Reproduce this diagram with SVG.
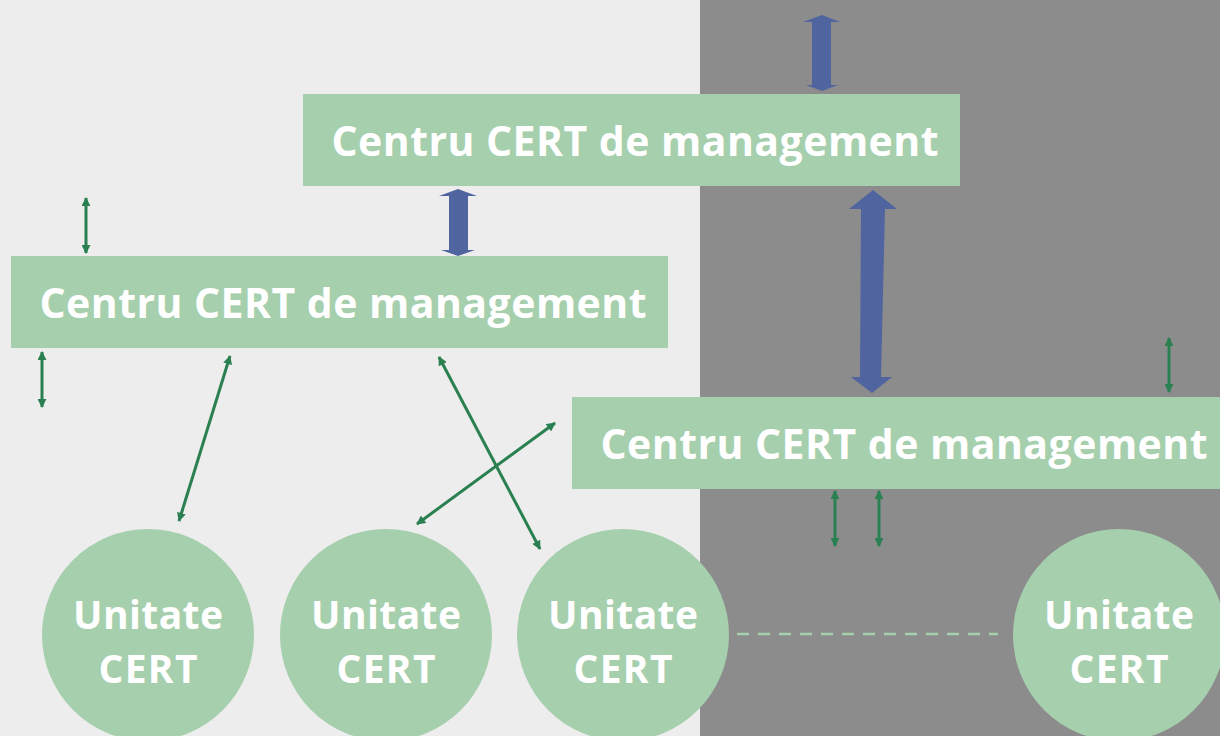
<svg xmlns="http://www.w3.org/2000/svg" width="1220" height="736" viewBox="0 0 1220 736">
<defs>
<style>
.box{fill:#A6CFAD;}
.lbl{font-family:"Open Sans","Liberation Sans",sans-serif;font-weight:bold;fill:#FFFFFF;text-anchor:middle;}
.bl{font-size:41px;}
.cl{font-size:39px;}
.g{stroke:#2A8050;stroke-width:3;fill:none;marker-start:url(#gs);marker-end:url(#ge);}
.blue{fill:#5064A0;}
</style>
<marker id="ge" viewBox="0 0 10 10" refX="9" refY="5" markerWidth="3.2" markerHeight="3" orient="auto" markerUnits="strokeWidth">
<path d="M0,0 L10,5 L0,10 z" fill="#2A8050"/>
</marker>
<marker id="gs" viewBox="0 0 10 10" refX="1" refY="5" markerWidth="3.2" markerHeight="3" orient="auto" markerUnits="strokeWidth">
<path d="M10,0 L0,5 L10,10 z" fill="#2A8050"/>
</marker>
</defs>
<rect x="0" y="0" width="700" height="736" fill="#EDEDED"/>
<rect x="700" y="0" width="520" height="736" fill="#8C8C8D"/>
<line x1="737" y1="634" x2="998" y2="634" stroke="#A6CFAD" stroke-width="2.5" stroke-dasharray="12 9"/>
<g id="connectors">
<polygon class="blue" points="822,15 840,22 831,22 831,85 838,85 822,91 806,85 812,85 812,22 803,22"/>
<polygon class="blue" points="873,190 897,209 885,209 881,377 892,377 872,393 851,377 860,377 861,209 849,209"/>
<polygon class="blue" points="458,189 477,196 468,196 468,250 475,250 458,256 441,250 449,250 449,196 439,196"/>
<line class="g" x1="86" y1="198" x2="86" y2="253"/>
<line class="g" x1="42" y1="352" x2="42" y2="407"/>
<line class="g" x1="1169" y1="338" x2="1169" y2="392"/>
<line class="g" x1="835" y1="491" x2="835" y2="546"/>
<line class="g" x1="879" y1="491" x2="879" y2="546"/>
<line class="g" x1="179" y1="521" x2="230" y2="356"/>
<line class="g" x1="439" y1="357" x2="540" y2="549"/>
<line class="g" x1="417" y1="524" x2="555" y2="423"/>
</g>
<g id="mgmt1">
<rect class="box" x="303" y="94" width="657" height="92"/>
<text class="lbl bl" x="635" y="156" textLength="607" lengthAdjust="spacing">Centru CERT de management</text>
</g>
<g id="mgmt2">
<rect class="box" x="11" y="256" width="657" height="92"/>
<text class="lbl bl" x="343" y="318" textLength="607" lengthAdjust="spacing">Centru CERT de management</text>
</g>
<g id="mgmt3">
<rect class="box" x="572" y="397" width="648" height="92"/>
<text class="lbl bl" x="904" y="459" textLength="607" lengthAdjust="spacing">Centru CERT de management</text>
</g>
<g id="unit1">
<circle class="box" cx="148" cy="635" r="106"/>
<text class="lbl cl" x="148" y="629" textLength="150" lengthAdjust="spacing">Unitate</text>
<text class="lbl cl" x="148" y="683" textLength="99" lengthAdjust="spacing">CERT</text>
</g>
<g id="unit2">
<circle class="box" cx="386" cy="635" r="106"/>
<text class="lbl cl" x="386" y="629" textLength="150" lengthAdjust="spacing">Unitate</text>
<text class="lbl cl" x="386" y="683" textLength="99" lengthAdjust="spacing">CERT</text>
</g>
<g id="unit3">
<circle class="box" cx="623" cy="635" r="106"/>
<text class="lbl cl" x="623" y="629" textLength="150" lengthAdjust="spacing">Unitate</text>
<text class="lbl cl" x="623" y="683" textLength="99" lengthAdjust="spacing">CERT</text>
</g>
<g id="unit4">
<circle class="box" cx="1119" cy="635" r="106"/>
<text class="lbl cl" x="1119" y="629" textLength="150" lengthAdjust="spacing">Unitate</text>
<text class="lbl cl" x="1119" y="683" textLength="99" lengthAdjust="spacing">CERT</text>
</g>
</svg>
